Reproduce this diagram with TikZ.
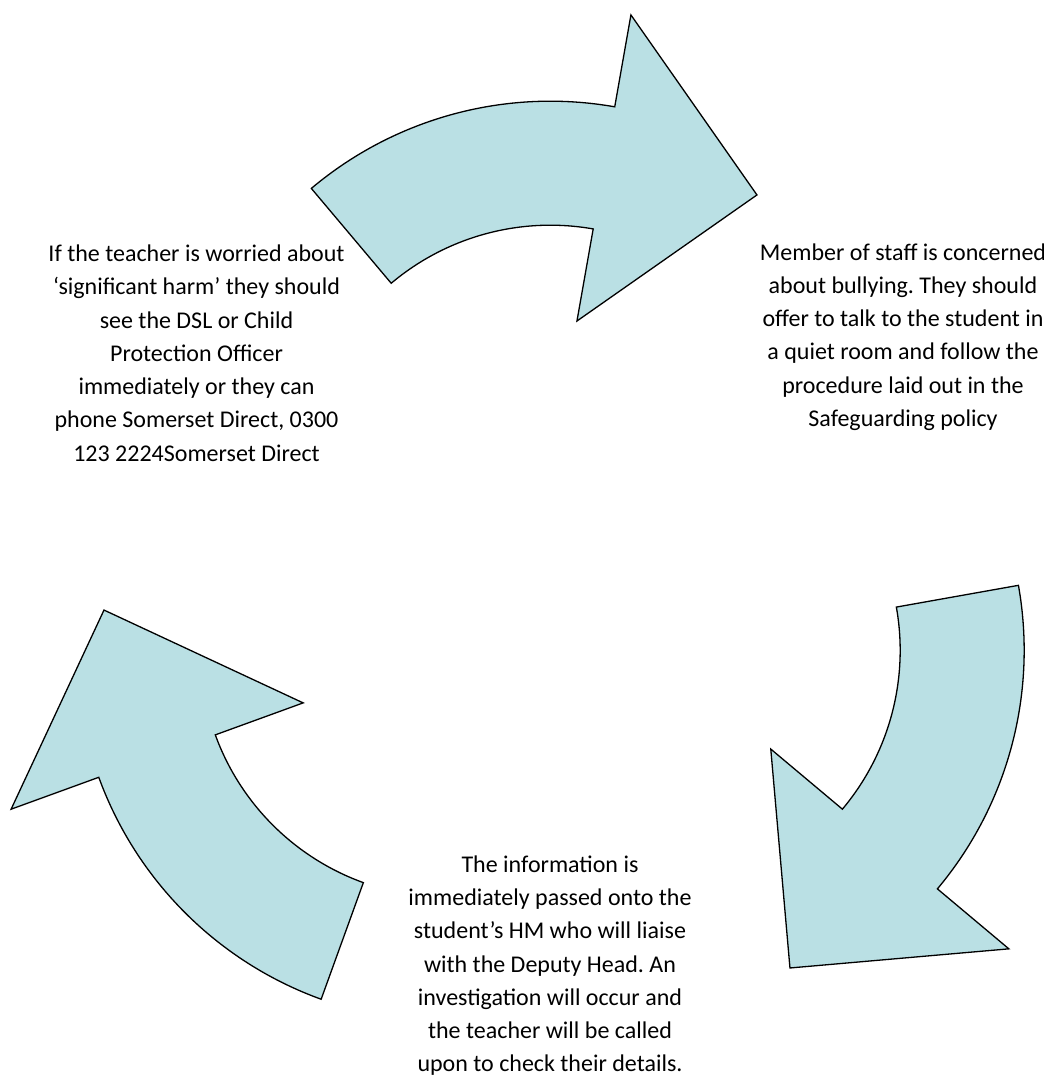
\documentclass[tikz,border=0pt]{standalone}
\usepackage{fontspec}
\setmainfont{Carlito}
\definecolor{arrowfill}{RGB}{186,224,228}
\tikzset{
  cyclearrow/.style={draw=black, line width=1.3pt, fill=arrowfill, line join=miter},
  steptext/.style={anchor=north, inner sep=0pt, align=center, text=black,
    font=\fontsize{24pt}{33.23pt}\selectfont\frenchspacing}
}
\newcommand{\toprule}{\rule{0pt}{25pt}}
\begin{document}
\begin{tikzpicture}[x=1pt,y=1pt]
\useasboundingbox (0,0) rectangle (1044,1079);
\clip (0,0) rectangle (1044,1079);
\coordinate (O) at (550.3,606.8);
\coordinate (C) at (550.3,488);
\foreach \r in {0,-120,-240}{
  \draw[cyclearrow, rotate around={\r:(C)}]
    ([shift={(O)}]130.1:371pt) arc[start angle=130.1, end angle=80, radius=371pt]
    -- ([shift={(O)}]80:464.3pt)
    -- ([shift={(O)}]53.3:345.8pt)
    -- ([shift={(O)}]80:153.5pt)
    -- ([shift={(O)}]80:247pt) arc[start angle=80, end angle=130.1, radius=247pt]
    -- cycle;
}
\node[steptext] (left) at (196.5,842.5) {\toprule If the teacher is worried about\\
‘significant harm’ they should\\ see the DSL or Child\\ Protection Officer\\
immediately or they can\\ phone Somerset Direct, 0300\\ 123 2224Somerset Direct};
\node[steptext] (right) at (903,844) {\toprule Member of staff is concerned\\
about bullying. They should\\ offer to talk to the student in\\ a quiet room and follow the\\
procedure laid out in the\\ Safeguarding policy};
\node[steptext] (bottom) at (550,231.7) {\toprule The information is\\
immediately passed onto the\\ student’s HM who will liaise\\ with the Deputy Head. An\\
investigation will occur and\\ the teacher will be called\\ upon to check their details.};
\end{tikzpicture}
\end{document}
